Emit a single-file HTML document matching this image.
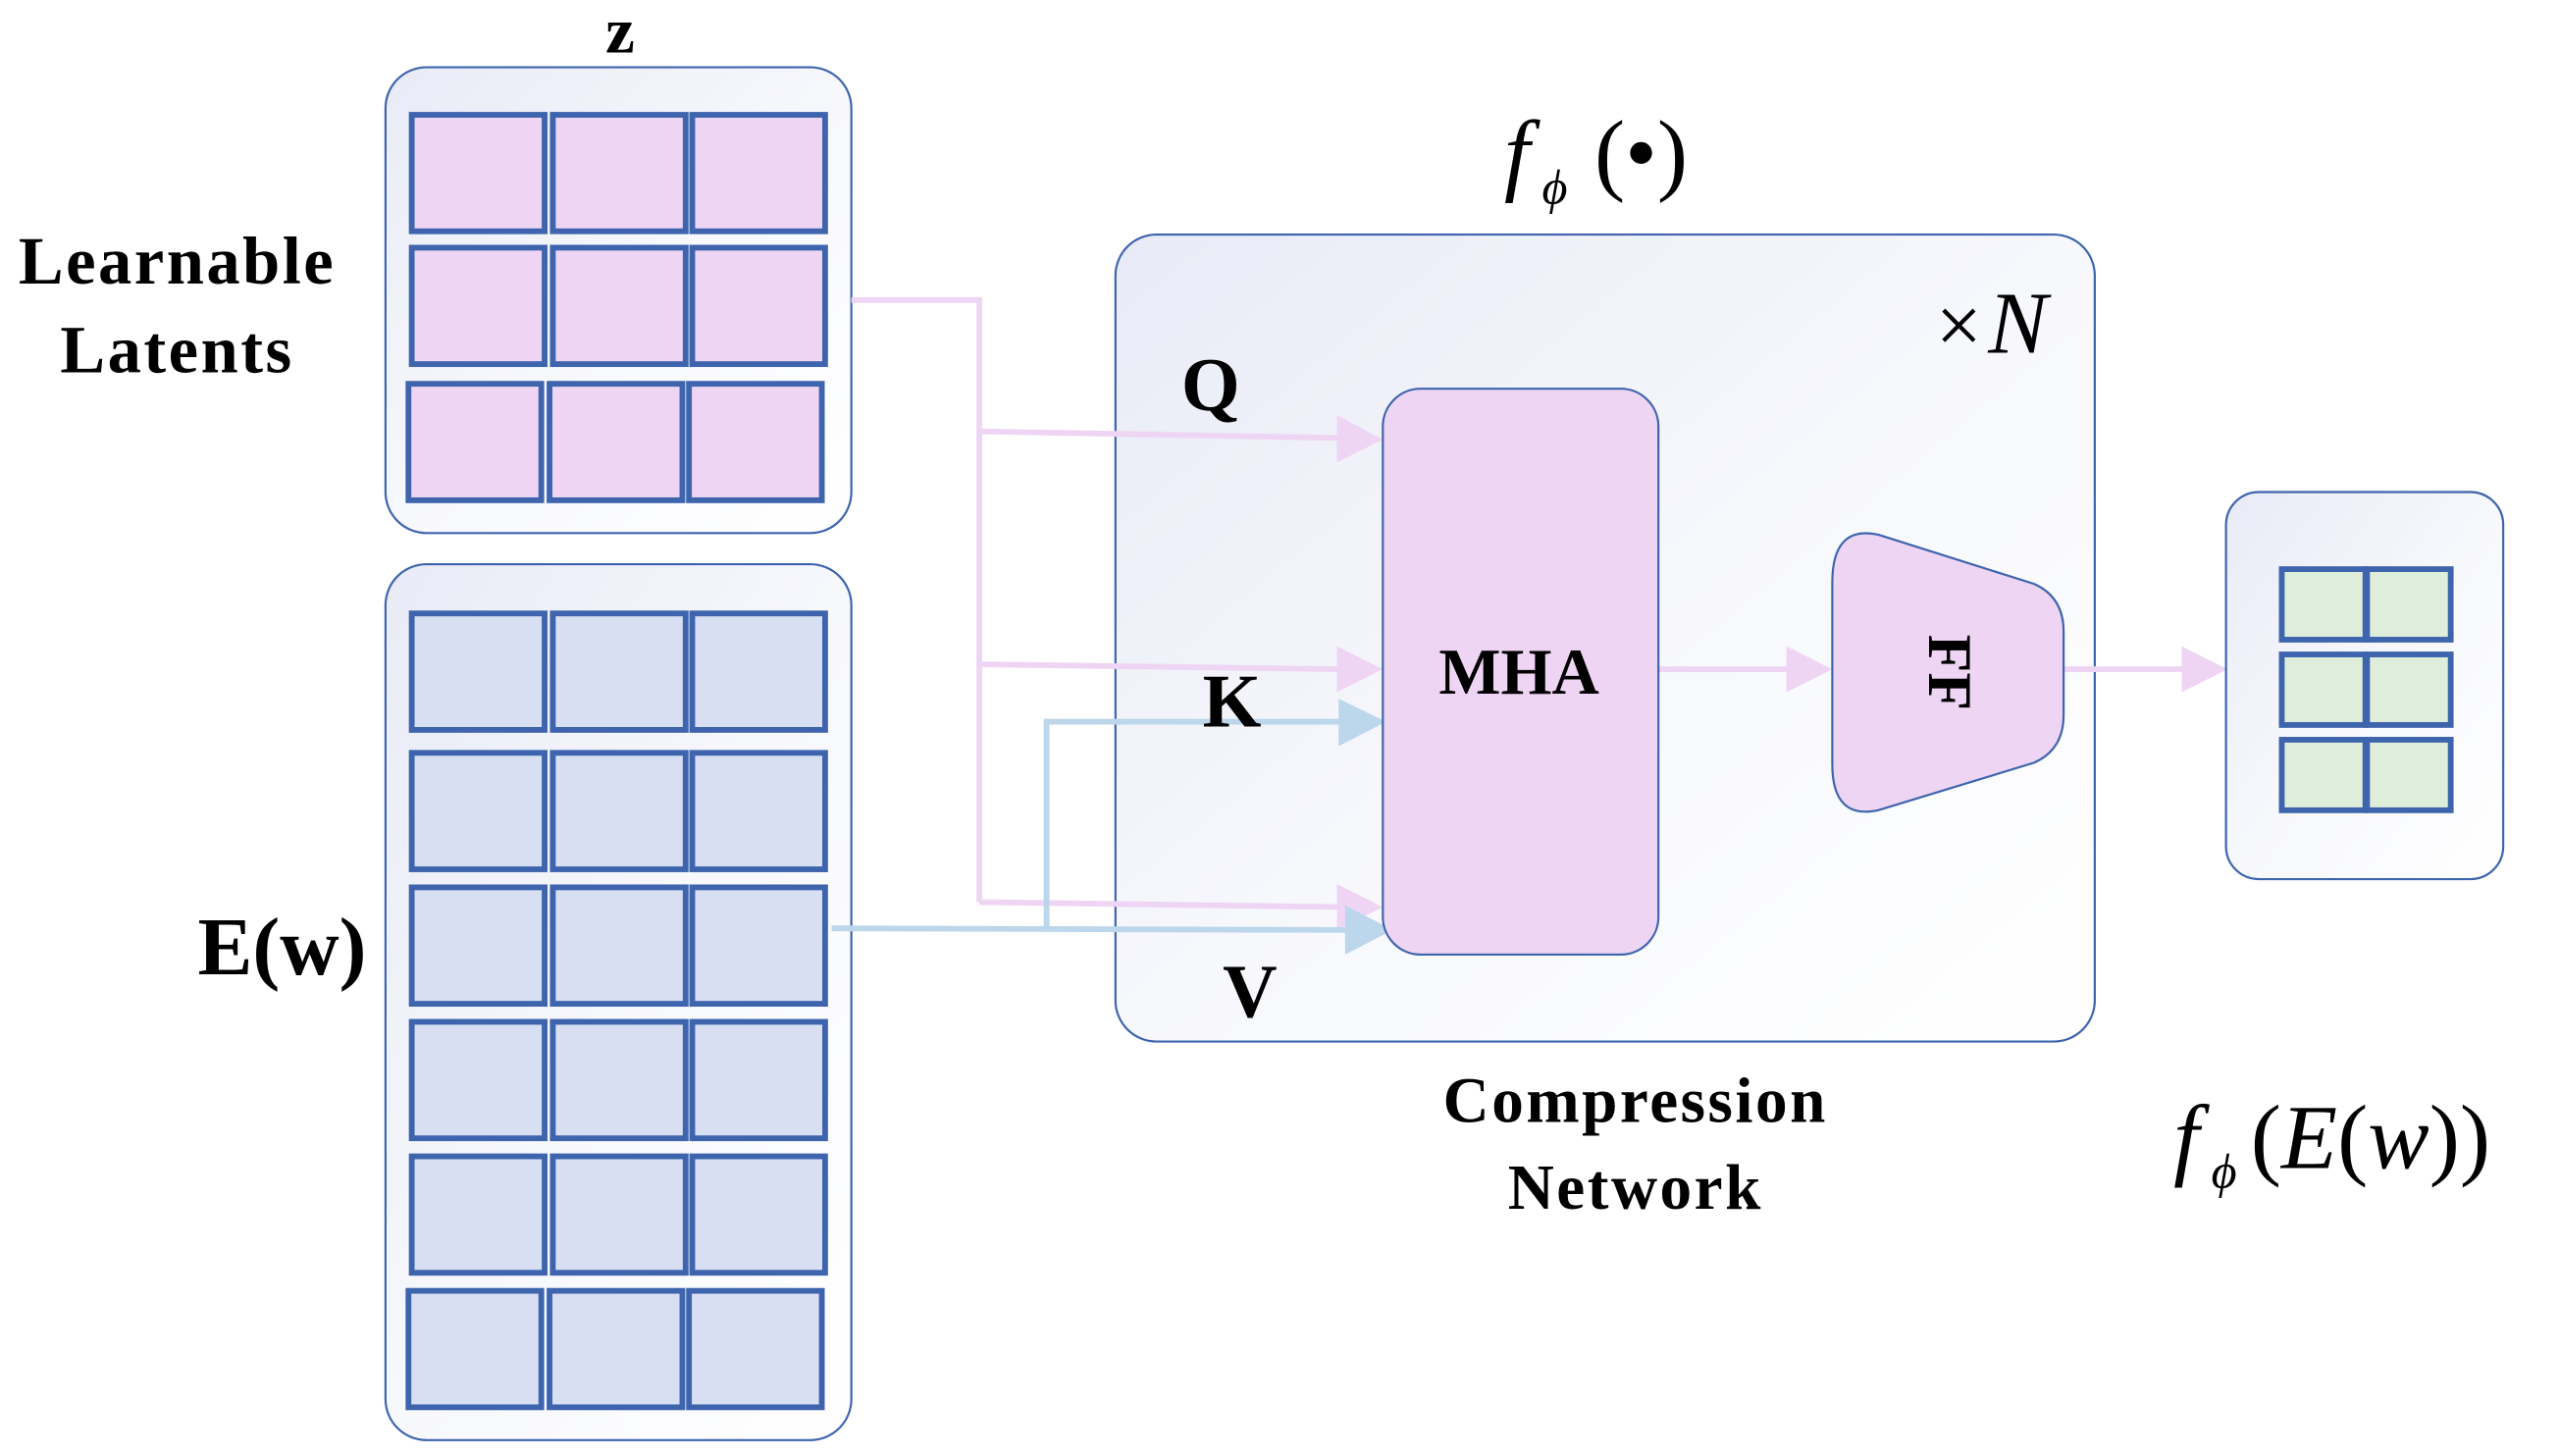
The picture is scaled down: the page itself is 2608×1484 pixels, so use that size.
<!DOCTYPE html>
<html><head><meta charset="utf-8"><style>html,body{margin:0;padding:0;background:#fff}svg{display:block}</style></head>
<body>
<svg width="2608" height="1484" viewBox="0 0 1560 887.7" preserveAspectRatio="none" xmlns="http://www.w3.org/2000/svg">
<defs>
<linearGradient id="g" x1="0" y1="0" x2="1" y2="1">
<stop offset="0" stop-color="#e8eaf6"/><stop offset="0.5" stop-color="#f7f8fc"/><stop offset="1" stop-color="#ffffff"/>
</linearGradient>
</defs>
<!-- left boxes -->
<rect x="235" y="41" width="284" height="284" rx="25" fill="url(#g)" stroke="#3d64ad" stroke-width="1.3"/>
<rect x="235" y="344" width="284" height="534" rx="25" fill="url(#g)" stroke="#3d64ad" stroke-width="1.3"/>
<g stroke="#3d64ad" stroke-width="3.5" fill="#efd5f4">
<rect x="251" y="70" width="81" height="71"/><rect x="337" y="70" width="81" height="71"/><rect x="422" y="70" width="81" height="71"/>
<rect x="251" y="151" width="81" height="71"/><rect x="337" y="151" width="81" height="71"/><rect x="422" y="151" width="81" height="71"/>
<rect x="249" y="234" width="81" height="71"/><rect x="335" y="234" width="81" height="71"/><rect x="420" y="234" width="81" height="71"/>
</g>
<g stroke="#3d64ad" stroke-width="3.5" fill="#d8dff2">
<rect x="251" y="374" width="81" height="71"/><rect x="337" y="374" width="81" height="71"/><rect x="422" y="374" width="81" height="71"/>
<rect x="251" y="459" width="81" height="71"/><rect x="337" y="459" width="81" height="71"/><rect x="422" y="459" width="81" height="71"/>
<rect x="251" y="541" width="81" height="71"/><rect x="337" y="541" width="81" height="71"/><rect x="422" y="541" width="81" height="71"/>
<rect x="251" y="623" width="81" height="71"/><rect x="337" y="623" width="81" height="71"/><rect x="422" y="623" width="81" height="71"/>
<rect x="251" y="705" width="81" height="71"/><rect x="337" y="705" width="81" height="71"/><rect x="422" y="705" width="81" height="71"/>
<rect x="249" y="787" width="81" height="71"/><rect x="335" y="787" width="81" height="71"/><rect x="420" y="787" width="81" height="71"/>
</g>
<!-- compression box -->
<rect x="680" y="143" width="597" height="492" rx="25" fill="url(#g)" stroke="#3d64ad" stroke-width="1.3"/>
<!-- connectors -->
<g fill="none" stroke="#efd5f4" stroke-width="3.5">
<polyline points="519,183 597,183 597,550"/>
<line x1="597" y1="263" x2="815" y2="267"/>
<line x1="597" y1="405" x2="815" y2="408"/>
<line x1="597" y1="550" x2="815" y2="553"/>
<line x1="1011" y1="408" x2="1090" y2="408"/>
<line x1="1258" y1="408" x2="1332" y2="408"/>
</g>
<g fill="#efd5f4">
<polygon points="815,253 843,268 815,282"/>
<polygon points="815,394 843,408 815,422"/>
<polygon points="815,539 843,553 815,567"/>
<polygon points="1089,394 1117,408 1089,422"/>
<polygon points="1330,394 1358,408 1330,422"/>
</g>
<g fill="none" stroke="#bcd6ec" stroke-width="3.5">
<line x1="507" y1="566" x2="820" y2="567"/>
<polyline points="638,566 638,440 818,440"/>
</g>
<g fill="#bcd6ec">
<polygon points="816,426 845,440 816,455"/>
<polygon points="820,552 849,567 820,582"/>
</g>
<!-- MHA -->
<rect x="843" y="237" width="168" height="345" rx="23" fill="#efd5f4" stroke="#3d64ad" stroke-width="1.3"/>
<text x="926" y="423" font-family="Liberation Serif, serif" font-weight="bold" font-size="40" text-anchor="middle">MHA</text>
<!-- FF -->
<path d="M1117,355 Q1117,320 1145,326 L1240,356 Q1258,364 1258,385 L1258,436 Q1258,457 1240,465 L1145,494 Q1117,500 1117,466 Z" fill="#efd5f4" stroke="#3d64ad" stroke-width="1.3"/>
<text transform="translate(1176,410) rotate(90)" font-family="Liberation Serif, serif" font-weight="bold" font-size="38" text-anchor="middle">FF</text>
<!-- output -->
<rect x="1357" y="300" width="169" height="236" rx="20" fill="url(#g)" stroke="#3d64ad" stroke-width="1.3"/>
<g stroke="#3d64ad" stroke-width="3.5" fill="#dfeedb">
<rect x="1391" y="347" width="51" height="43"/><rect x="1443" y="347" width="51" height="43"/>
<rect x="1391" y="399" width="51" height="43"/><rect x="1443" y="399" width="51" height="43"/>
<rect x="1391" y="451" width="51" height="43"/><rect x="1443" y="451" width="51" height="43"/>
</g>
<!-- text -->
<g font-family="Liberation Serif, serif" font-weight="bold" fill="#000" text-anchor="middle">
<text x="378" y="32" font-size="40">z</text>
<text x="108" y="173" font-size="41" letter-spacing="1.5">Learnable</text>
<text x="108" y="227" font-size="41" letter-spacing="1.5">Latents</text>
<text x="172" y="594" font-size="50">E(w)</text>
<text x="738" y="250" font-size="46">Q</text>
<text x="751" y="443" font-size="46">K</text>
<text x="762" y="620" font-size="46">V</text>
<text x="997" y="684" font-size="39" letter-spacing="1.5">Compression</text>
<text x="997" y="737" font-size="39" letter-spacing="1.5">Network</text>
</g>
<g font-family="Liberation Serif, serif" font-style="italic" fill="#000">
<text x="917" y="112" font-size="56">f</text>
<text x="940" y="124" font-size="30">ϕ</text>
<text x="972" y="112" font-size="56" font-style="normal">(•)</text>
<text x="1180" y="215" font-size="50" font-style="normal">×</text>
<text x="1212" y="215" font-size="54">N</text>
<text x="1325" y="712" font-size="56">f</text>
<text x="1348" y="724" font-size="30">ϕ</text>
<text x="1372" y="712" font-size="56"><tspan font-style="normal">(</tspan>E<tspan font-style="normal">(</tspan>w<tspan font-style="normal">))</tspan></text>
</g>
</svg>
</body></html>
